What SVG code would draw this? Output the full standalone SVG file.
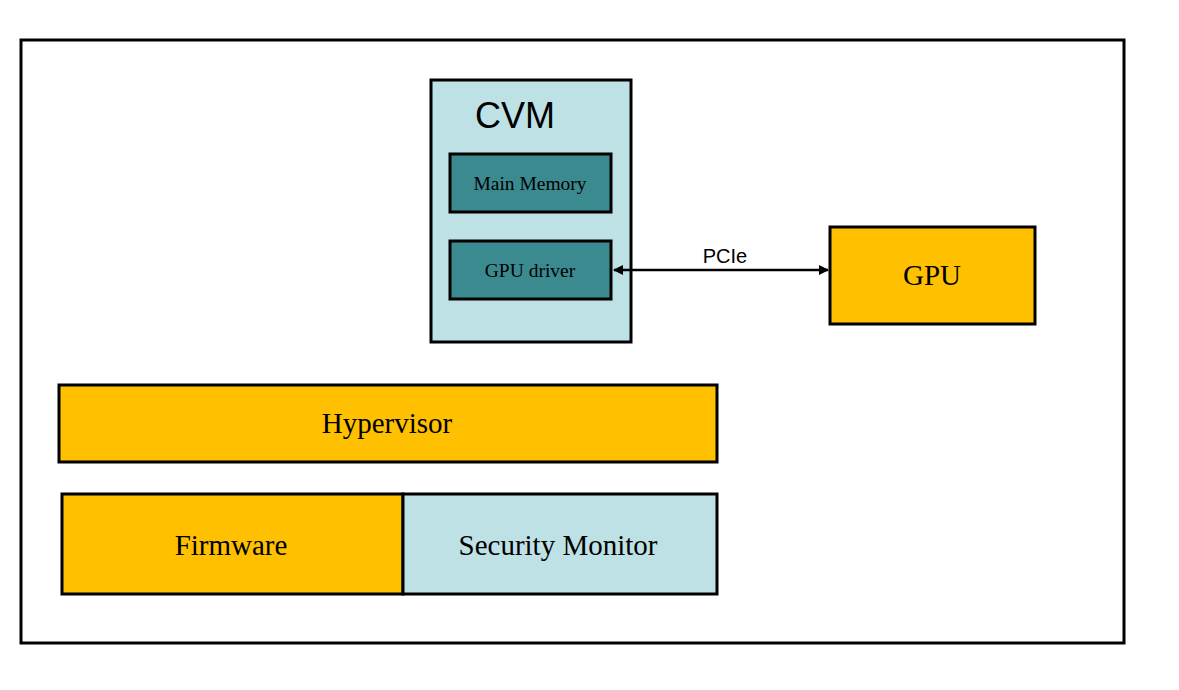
<svg xmlns="http://www.w3.org/2000/svg" width="1179" height="690" viewBox="0 0 1179 690">
<defs>
<style>
.box{stroke:#000;stroke-width:3}
.yel{fill:#FFC000}
.lb{fill:#BDE1E4}
.teal{fill:#3A8A8F}
.serif{font-family:"Liberation Serif",serif;fill:#000;text-anchor:middle}
.sans{font-family:"Liberation Sans",sans-serif;fill:#000;text-anchor:middle}
</style>
<marker id="ah" viewBox="0 0 10 10" refX="9" refY="5" markerWidth="4" markerHeight="4" orient="auto-start-reverse">
<path d="M0,0 L10,5 L0,10 z" fill="#000"/>
</marker>
</defs>
<rect x="0" y="0" width="1179" height="690" fill="#fff"/>
<g id="frame"><rect x="21" y="40" width="1103" height="603" fill="#fff" stroke="#000" stroke-width="3"/></g>
<g id="cvm">
<rect class="box lb" x="431" y="80" width="200" height="262"/>
<text class="sans" x="515" y="128" font-size="36">CVM</text>
</g>
<g id="main-memory">
<rect class="box teal" x="450" y="154" width="161" height="58"/>
<text class="serif" x="530" y="190" font-size="19.5">Main Memory</text>
</g>
<g id="gpu-driver">
<rect class="box teal" x="450" y="241" width="161" height="58"/>
<text class="serif" x="530" y="277" font-size="19.5">GPU driver</text>
</g>
<g id="gpu">
<rect class="box yel" x="830" y="227" width="205" height="97"/>
<text class="serif" x="932" y="285" font-size="29">GPU</text>
</g>
<g id="hypervisor">
<rect class="box yel" x="59" y="385" width="658" height="77"/>
<text class="serif" x="387" y="433" font-size="29">Hypervisor</text>
</g>
<g id="firmware">
<rect class="box yel" x="62" y="494" width="341" height="100"/>
<text class="serif" x="231" y="555" font-size="29">Firmware</text>
</g>
<g id="security-monitor">
<rect class="box lb" x="403" y="494" width="314" height="100"/>
<text class="serif" x="558" y="555" font-size="29">Security Monitor</text>
</g>
<g id="connectors">
<line x1="614" y1="270" x2="828" y2="270" stroke="#000" stroke-width="2.5" marker-start="url(#ah)" marker-end="url(#ah)"/>
<text class="sans" x="725" y="263" font-size="20">PCIe</text>
</g>
</svg>
